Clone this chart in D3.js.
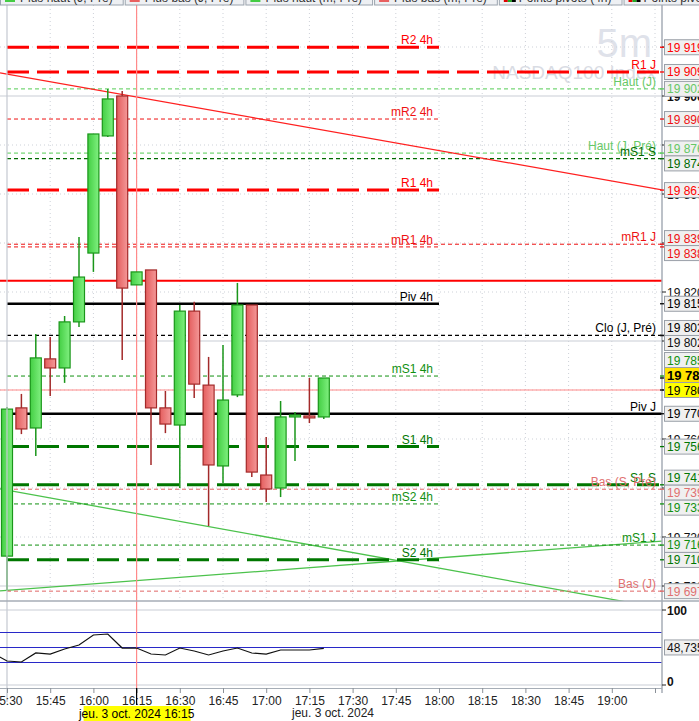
<!DOCTYPE html>
<html>
<head>
<meta charset="utf-8">
<script src="https://cdnjs.cloudflare.com/ajax/libs/d3/7.8.5/d3.min.js"></script>
<style>
  body { margin: 0; background: #fff; }
  svg { display: block; font-family: "Liberation Sans", Arial, sans-serif; }
</style>
</head>
<body>
<div id="chart"></div>
<script>
// 5 minute candles, jeu. 3 oct. 2024
var candleTimes = ['15:30','15:35','15:40','15:45','15:50','15:55','16:00','16:05','16:10','16:15','16:20','16:25',
                   '16:30','16:35','16:40','16:45','16:50','16:55','17:00','17:05','17:10','17:15','17:20'];
var openValues  = [19712.2,19772.7,19764.5,19792.7,19789.0,19807.8,19835.9,19883.7,19900.0,19822.9,19829.0,19772.7,
                   19765.7,19812.2,19782.0,19749.0,19778.0,19814.7,19745.3,19740.0,19769.0,19769.4,19769.0];
var highValues  = [19773.1,19778.4,19802.9,19801.6,19810.2,19842.4,19884.5,19902.9,19902.0,19828.2,19829.0,19779.6,
                   19814.7,19816.0,19793.5,19798.4,19823.7,19814.7,19760.8,19775.5,19771.0,19784.9,19784.9];
var lowValues   = [19698.4,19762.0,19753.1,19777.6,19782.9,19805.7,19828.2,19883.3,19792.2,19822.9,19749.4,19762.4,
                   19740.0,19776.7,19724.5,19742.0,19777.1,19744.5,19734.3,19736.3,19751.0,19766.5,19768.2];
var closeValues = [19772.2,19764.1,19793.1,19789.0,19807.8,19826.1,19884.5,19898.8,19821.6,19828.2,19772.7,19766.1,
                   19812.2,19782.4,19749.4,19775.9,19814.7,19746.5,19739.6,19769.0,19769.8,19768.6,19784.9];

// pivot / high-low levels
var levelNames  = ['R2 4h','R1 J','Haut (J)','mR2 4h','Haut (J, Pré)','mS1 S','R1 4h','mR1 J','mR1 4h','',
                   'Piv 4h','Clo (J, Pré)','mS1 4h','Piv J','S1 4h','S1 S','Bas (S, Pré)','mS2 4h','mS1 J','S2 4h','Bas (J)'];
var levelValues = [19919.9,19909.8,19902.9,19890.6,19876.7,19874.4,19861.6,19839.5,19838.4,19824.6,
                   19815.2,19802.3,19785.7,19770.3,19756.9,19741.3,19739.5,19733.5,19716.7,19710.7,19697.9];
var extraAxisValues = [19802.2];

// trend lines [time, price] pairs
var trendRed     = [['15:30', 19908.9], ['19:00', 19865.3]];
var trendGreenDn = [['15:30', 19739.1], ['19:05', 19693.5]];
var trendGreenUp = [['15:30', 19698.2], ['19:00', 19716.8]];

var cursorTime = '16:15';
var cursorPrice = 19780.0;

// oscillator
var oscTimes  = ['15:25','15:30','15:35','15:40','15:45','15:50','15:55','16:00','16:05','16:10','16:15','16:20',
                 '16:25','16:30','16:35','16:40','16:45','16:50','16:55','17:00','17:05','17:10','17:15','17:20'];
var oscValues = [42.7,32.0,30.7,42.7,41.3,48.0,53.3,66.7,68.0,49.3,49.3,41.3,
                 40.0,49.3,45.3,40.0,45.3,49.3,42.7,41.3,46.7,46.7,46.7,48.735];
var oscBands  = [30, 50, 70];

var tickTimes = ['15:30','15:45','16:00','16:15','16:30','16:45','17:00','17:15','17:30','17:45',
                 '18:00','18:15','18:30','18:45','19:00','19:15'];
var tabNames = ['Plus haut (J, Pré)','Plus bas (J, Pré)','Plus haut (m, Pré)','Plus bas (m, Pré)',
                'Points pivots (4h)','Points pivots (J)'];

var W = 699, H = 721;
var plotR = 662, plotT = 5, plotB = 601, axisY = 688;

var fr = d3.formatLocale({decimal: ',', thousands: '\u00a0', grouping: [3], currency: ['', '']});
var fmtPrice = function (v) { return fr.format(',')(Math.floor(v)); };
var fmtOsc = fr.format('.3f');

var parseT = function (s) {
    var p = s.split(':');
    return new Date(2024, 9, 3, +p[0], +p[1]);
};

var candles = candleTimes.map(function (t, i) {
    return {t: parseT(t), o: openValues[i], h: highValues[i], l: lowValues[i], c: closeValues[i]};
});

var x = d3.scaleTime()
    .domain([parseT('15:30'), parseT('19:00')])
    .range([7, 611.8]);
var y = d3.scaleLinear()
    .domain([19700, 19920])
    .range([586, 47]);
var yOsc = d3.scaleLinear()
    .domain([0, 100])
    .range([685, 610]);

var svg = d3.select('#chart').append('svg')
    .attr('width', W)
    .attr('height', H);

svg.append('rect').attr('width', W).attr('height', H).attr('fill', '#fff');

var defs = svg.append('defs');
defs.append('clipPath').attr('id', 'clipMain').append('rect')
    .attr('x', 0).attr('y', plotT).attr('width', plotR).attr('height', plotB - plotT);
defs.append('clipPath').attr('id', 'clipOsc').append('rect')
    .attr('x', 0).attr('y', plotB).attr('width', plotR).attr('height', axisY - plotB);

function grad(id, c0, c1) {
    var g = defs.append('linearGradient').attr('id', id)
        .attr('x1', 0).attr('x2', 1).attr('y1', 0).attr('y2', 0);
    g.append('stop').attr('offset', '0%').attr('stop-color', c0);
    g.append('stop').attr('offset', '100%').attr('stop-color', c1);
}
grad('gUp', '#44cf44', '#80f080');
grad('gDn', '#e45e5e', '#f49898');

// watermark
svg.append('text')
    .attr('x', 652).attr('y', 57)
    .attr('text-anchor', 'end')
    .attr('font-size', 40)
    .attr('fill', '#dfe2ea')
    .text('5m');
svg.append('text')
    .attr('x', 656).attr('y', 79)
    .attr('text-anchor', 'end')
    .attr('font-size', 19)
    .attr('fill', '#d9dce4')
    .text('NASDAQ100 Index');

var main = svg.append('g').attr('clip-path', 'url(#clipMain)');

// horizontal grid
d3.range(19700, 19921, 20).forEach(function (p) {
    main.append('line')
        .attr('x1', 0).attr('x2', plotR)
        .attr('y1', y(p)).attr('y2', y(p))
        .attr('stroke', p % 100 === 0 ? '#c9cdd5' : '#cdd1d8')
        .attr('stroke-width', p % 100 === 0 ? 1.2 : 1)
        .attr('stroke-dasharray', p % 100 === 0 ? null : '1,3');
});

// vertical grid
tickTimes.slice(1).forEach(function (t) {
    main.append('line')
        .attr('x1', x(parseT(t))).attr('x2', x(parseT(t)))
        .attr('y1', plotT).attr('y2', plotB)
        .attr('stroke', '#cdd1d8')
        .attr('stroke-dasharray', '1,3');
});

// session start line
svg.append('line')
    .attr('x1', x(parseT('15:30'))).attr('x2', x(parseT('15:30')))
    .attr('y1', plotT).attr('y2', 702)
    .attr('stroke', '#c4c8d0').attr('stroke-width', 1.2);

function levelStyle(name) {
    if (name === '') return {c: '#ff0000', t: '#ff0000', w: 2, d: null};
    if (/^R\d/.test(name)) return {c: '#ff0000', t: '#ff0000', w: 3, d: '22,8'};
    if (/^mR/.test(name)) return {c: '#ee1111', t: '#ee1111', w: 1, d: '4,3'};
    if (/^Haut/.test(name)) return {c: '#55cc55', t: '#66c866', w: 1, d: '4,3'};
    if (name === 'mS1 S') return {c: '#006a00', t: '#006a00', w: 1.2, d: '4,3'};
    if (/^mS/.test(name)) return {c: '#109010', t: '#109010', w: 1, d: '4,3'};
    if (/^Piv/.test(name)) return {c: '#000', t: '#000', w: 2.5, d: null};
    if (/^Clo/.test(name)) return {c: '#000', t: '#000', w: 1.3, d: '4,3'};
    if (/^S\d/.test(name)) return {c: '#007700', t: '#007700', w: 3, d: '22,8'};
    return {c: '#e06666', t: '#e07070', w: 1, d: '4,3'};
}

var levels = levelNames.map(function (n, i) {
    return {name: n, v: levelValues[i], s: levelStyle(n), h4: /4h$/.test(n)};
});

var xStart = x(parseT('15:30')), x4hEnd = x(parseT('18:00'));

// trend lines
function trend(pts, color, w) {
    var t0 = parseT(pts[0][0]), t1 = parseT(pts[1][0]);
    var slope = (pts[1][1] - pts[0][1]) / (t1 - t0);
    var tA = x.invert(0);
    var tB = pts[1][0] === '19:05' ? t1 : x.invert(plotR);
    main.append('line')
        .attr('x1', x(tA)).attr('y1', y(pts[0][1] + slope * (tA - t0)))
        .attr('x2', x(tB)).attr('y2', y(pts[0][1] + slope * (tB - t0)))
        .attr('stroke', color).attr('stroke-width', w);
}
trend(trendGreenDn, '#4cc24c', 1.3);
trend(trendGreenUp, '#4cc24c', 1.3);

// cursor lines
main.append('line')
    .attr('x1', 0).attr('x2', plotR)
    .attr('y1', y(cursorPrice)).attr('y2', y(cursorPrice))
    .attr('stroke', '#ff8a8a').attr('stroke-width', 1.2);

// level lines
levels.forEach(function (L) {
    var x1 = L.name === '' ? 0 : xStart;
    var x2 = L.h4 ? x4hEnd : plotR;
    main.append('line')
        .attr('x1', x1).attr('x2', x2)
        .attr('y1', y(L.v)).attr('y2', y(L.v))
        .attr('stroke', L.s.c)
        .attr('stroke-width', L.s.w)
        .attr('stroke-dasharray', L.s.d);
});

trend(trendRed, '#ff2020', 1.2);

main.append('line')
    .attr('x1', x(parseT(cursorTime))).attr('x2', x(parseT(cursorTime)))
    .attr('y1', plotT).attr('y2', plotB)
    .attr('stroke', '#ff8a8a').attr('stroke-width', 1.2);

// candles
var bw = 11;
var cg = main.selectAll('g.candle')
    .data(candles)
    .enter()
    .append('g')
    .attr('class', 'candle');
cg.append('line')
    .attr('x1', function (d) { return x(d.t); })
    .attr('x2', function (d) { return x(d.t); })
    .attr('y1', function (d) { return y(d.h); })
    .attr('y2', function (d) { return y(d.l); })
    .attr('stroke', function (d) { return d.c >= d.o ? '#1a961a' : '#a32a2a'; })
    .attr('stroke-width', 1.5);
cg.append('rect')
    .attr('x', function (d) { return x(d.t) - bw / 2; })
    .attr('width', bw)
    .attr('y', function (d) { return y(Math.max(d.o, d.c)); })
    .attr('height', function (d) { return Math.max(1, Math.abs(y(d.o) - y(d.c))); })
    .attr('fill', function (d) { return d.c >= d.o ? 'url(#gUp)' : 'url(#gDn)'; })
    .attr('stroke', function (d) { return d.c >= d.o ? '#1a961a' : '#a32a2a'; })
    .attr('stroke-width', 1.2);

// level text
levels.forEach(function (L) {
    if (L.name === '') return;
    main.append('text')
        .attr('x', L.h4 ? x4hEnd - 6 : plotR - 6)
        .attr('y', y(L.v) - 3)
        .attr('text-anchor', 'end')
        .attr('font-size', 12)
        .attr('fill', L.s.t)
        .text(L.name);
});

// oscillator panel
var osc = svg.append('g').attr('clip-path', 'url(#clipOsc)');
[0, 100].forEach(function (v) {
    osc.append('line')
        .attr('x1', 0).attr('x2', plotR)
        .attr('y1', yOsc(v)).attr('y2', yOsc(v))
        .attr('stroke', '#c9cdd5');
});
oscBands.forEach(function (v) {
    osc.append('line')
        .attr('x1', 0).attr('x2', plotR)
        .attr('y1', yOsc(v)).attr('y2', yOsc(v))
        .attr('stroke', '#2828c8').attr('stroke-width', 1);
});
osc.append('line')
    .attr('x1', x(parseT(cursorTime))).attr('x2', x(parseT(cursorTime)))
    .attr('y1', plotB).attr('y2', axisY)
    .attr('stroke', '#ff8a8a').attr('stroke-width', 1.2);
osc.append('path')
    .datum(oscTimes.map(function (t, i) { return [parseT(t), oscValues[i]]; }))
    .attr('fill', 'none')
    .attr('stroke', '#111')
    .attr('stroke-width', 1.2)
    .attr('d', d3.line()
        .x(function (d) { return x(d[0]); })
        .y(function (d) { return yOsc(d[1]); }));

// panel frame
svg.append('line')
    .attr('x1', 0).attr('x2', W).attr('y1', plotB).attr('y2', plotB)
    .attr('stroke', '#a6adb6').attr('stroke-width', 1.5);
svg.append('line')
    .attr('x1', plotR).attr('x2', plotR).attr('y1', 0).attr('y2', 693)
    .attr('stroke', '#a6adb6').attr('stroke-width', 1.5);

// x axis
var xAxis = d3.axisBottom(x)
    .tickValues(tickTimes.map(parseT))
    .tickSize(5)
    .tickPadding(3)
    .tickFormat(function (d) { return d > parseT('19:00') ? '' : d3.timeFormat('%H:%M')(d); });
var gx = svg.append('g')
    .attr('transform', 'translate(0,' + axisY + ')')
    .call(xAxis);
gx.select('.domain').attr('d', 'M0,0.5H' + plotR).attr('stroke', '#a6adb6');
gx.selectAll('.tick line').attr('stroke', '#8a9098');
gx.selectAll('.tick text').attr('font-size', 12).attr('fill', '#222')
    .attr('font-family', '"Liberation Sans", Arial, sans-serif');

svg.append('line')
    .attr('x1', x(parseT(cursorTime))).attr('x2', x(parseT(cursorTime)))
    .attr('y1', axisY).attr('y2', 705)
    .attr('stroke', '#000').attr('stroke-width', 1.2);

svg.append('text')
    .attr('x', 333).attr('y', 717)
    .attr('text-anchor', 'middle').attr('font-size', 12).attr('fill', '#222')
    .text('jeu. 3 oct. 2024');
var cx = x(parseT(cursorTime));
svg.append('rect')
    .attr('x', cx - 53).attr('y', 706).attr('width', 107).attr('height', 15)
    .attr('fill', '#ffff00');
svg.append('text')
    .attr('x', cx).attr('y', 718)
    .attr('text-anchor', 'middle').attr('font-size', 12).attr('fill', '#000')
    .text('jeu. 3 oct. 2024 ' + cursorTime);

// right axis: grid labels
var ra = svg.append('g');
d3.range(19700, 19921, 20).forEach(function (p) {
    ra.append('line')
        .attr('x1', plotR).attr('x2', plotR + 4)
        .attr('y1', y(p)).attr('y2', y(p))
        .attr('stroke', '#222');
    ra.append('text')
        .attr('x', 667).attr('y', y(p) + 4.5)
        .attr('font-size', 12)
        .attr('font-weight', p % 100 === 0 ? 'bold' : null)
        .attr('fill', '#111')
        .text(fmtPrice(p));
});

// right axis: level labels with collision spreading
var lbls = [];
levels.forEach(function (L) {
    if (L.name === '') return;
    lbls.push({v: L.v, y0: y(L.v), color: L.s.t, tick: L.s.c, fill: '#f0f0f0', bold: false, fixed: false, order: 0});
});
extraAxisValues.forEach(function (v) {
    lbls.push({v: v, y0: y(v), color: '#111', tick: '#111', fill: '#f0f0f0', bold: false, fixed: false, order: 0});
});
var lastClose = closeValues[closeValues.length - 1];
lbls.push({v: lastClose, y0: y(lastClose), color: '#000', tick: '#000', fill: '#ffe400', bold: true, fixed: false, order: 1});
lbls.push({v: cursorPrice, y0: y(cursorPrice), color: '#000', tick: '#000', fill: '#ffff00', bold: false, fixed: true, order: 2});

lbls.forEach(function (d) { d.y = d.y0; });
var sorted = lbls.slice().sort(function (a, b) { return a.y0 - b.y0; });
var gap = 15;
for (var it = 0; it < 300; it++) {
    for (var i = 0; i < sorted.length - 1; i++) {
        var a = sorted[i], b = sorted[i + 1];
        var ov = gap - (b.y - a.y);
        if (ov > 0) {
            if (a.fixed) b.y += ov;
            else if (b.fixed) a.y -= ov;
            else { a.y -= ov / 2; b.y += ov / 2; }
        }
    }
}

lbls.sort(function (a, b) { return a.order - b.order || b.v - a.v; });
lbls.forEach(function (d) {
    ra.append('line')
        .attr('x1', plotR - 2).attr('x2', plotR + 3)
        .attr('y1', d.y0).attr('y2', d.y0)
        .attr('stroke', d.tick).attr('stroke-width', 1.3);
    ra.append('rect')
        .attr('x', 664.5).attr('y', d.y - 7.5)
        .attr('width', 40).attr('height', 15)
        .attr('fill', d.fill).attr('stroke', '#9aa0a8');
    ra.append('text')
        .attr('x', 667).attr('y', d.y + 4.5)
        .attr('font-size', d.bold ? 13 : 12)
        .attr('font-weight', d.bold ? 'bold' : null)
        .attr('fill', d.color)
        .text(fmtPrice(d.v));
});

// right axis: oscillator
[[100, '100'], [0, '0']].forEach(function (p) {
    ra.append('line')
        .attr('x1', plotR).attr('x2', plotR + 4)
        .attr('y1', yOsc(p[0])).attr('y2', yOsc(p[0]))
        .attr('stroke', '#222');
    ra.append('text')
        .attr('x', 667).attr('y', yOsc(p[0]) + (p[0] === 0 ? 1 : 4.5))
        .attr('font-size', 12).attr('font-weight', 'bold').attr('fill', '#111')
        .text(p[1]);
});
var lastOsc = oscValues[oscValues.length - 1];
ra.append('rect')
    .attr('x', 664.5).attr('y', yOsc(lastOsc) - 8.5)
    .attr('width', 40).attr('height', 15)
    .attr('fill', '#f0f0f0').attr('stroke', '#9aa0a8');
ra.append('text')
    .attr('x', 667).attr('y', yOsc(lastOsc) + 3.5)
    .attr('font-size', 12).attr('fill', '#111')
    .text(fmtOsc(lastOsc));

// legend tabs (mostly scrolled off the top)
var tabMarks = [['#44cc44'], ['#e86060'], ['#44cc44'], ['#e86060'], ['#e00000', '#22aa22', '#000'], ['#e00000', '#22aa22', '#000']];
var tg = svg.append('g');
var tx = 0;
tabNames.forEach(function (n, i) {
    var g = tg.append('g');
    var txt = g.append('text')
        .attr('x', tx + 20).attr('y', 1.5)
        .attr('font-size', 12).attr('fill', '#333')
        .text(n);
    var w = txt.node().getComputedTextLength() + 12 + 20;
    g.insert('rect', 'text')
        .attr('x', tx + 0.5).attr('y', -12).attr('width', w - 2).attr('height', 17)
        .attr('fill', '#eef0f3').attr('stroke', '#9aa3ad');
    tabMarks[i].forEach(function (c, k) {
        g.append('rect')
            .attr('x', tx + 5 + k * 4).attr('y', 0)
            .attr('width', tabMarks[i].length > 1 ? 4 : 10).attr('height', 2)
            .attr('fill', c);
    });
    tx += w;
});
</script>
</body>
</html>
